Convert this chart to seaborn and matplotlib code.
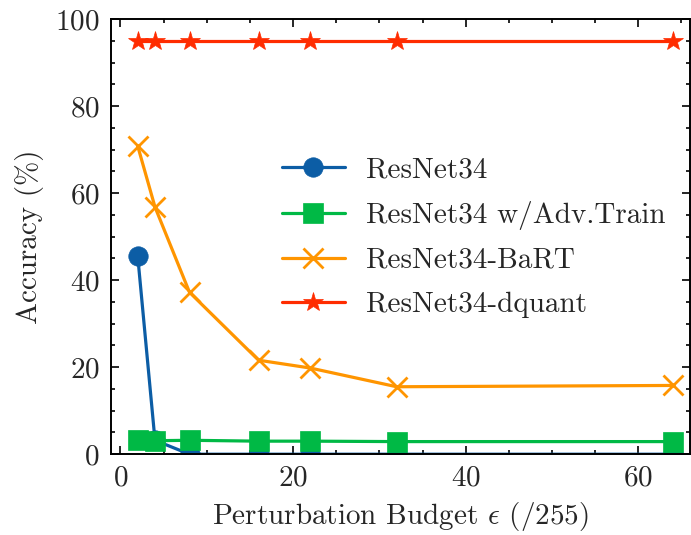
import numpy as np
import matplotlib
matplotlib.use('Agg')
import matplotlib.pyplot as plt
import pandas as pd
import seaborn as sns

# data
eps = [2, 4, 8, 16, 22, 32, 64]
resnet = [45.5, 3.2, 0.0, 0.0, 0.0, 0.0, 0.0]
resnet_adv = [3.2, 3.1, 3.2, 3.0, 3.0, 2.9, 2.9]
resnet_bart = [70.8, 56.8, 37.2, 21.6, 19.8, 15.5, 15.8]
resnet_dquant = [95.0, 95.0, 95.0, 95.0, 95.0, 95.0, 95.0]

labels = ['ResNet34', 'ResNet34 w/Adv.Train', 'ResNet34-BaRT', 'ResNet34-dquant']
colors = ['#0C5DA5', '#00B945', '#FF9500', '#FF2C00']
markers = ['o', 's', 'x', '*']
sizes = [14, 14.5, 15, 15]

sns.set_style('ticks')
plt.rcParams['font.family'] = 'serif'
plt.rcParams['font.serif'] = ['cmr10']
plt.rcParams['mathtext.fontset'] = 'cm'
plt.rcParams['axes.formatter.use_mathtext'] = True
plt.rcParams['font.size'] = 21
plt.rcParams['axes.linewidth'] = 1.4

df = pd.DataFrame({'eps': eps, labels[0]: resnet, labels[1]: resnet_adv,
                   labels[2]: resnet_bart, labels[3]: resnet_dquant})

fig = plt.figure(figsize=(6.91, 5.35), dpi=100)
ax = fig.add_axes([0.1606, 0.151, 0.838, 0.8135])

for lab, c, m, s in zip(labels, colors, markers, sizes):
    sns.lineplot(data=df, x='eps', y=lab, ax=ax, color=c, marker=m,
                 markersize=s, markeredgecolor=c, markerfacecolor=c,
                 markeredgewidth=2 if m == 'x' else 0.5, linewidth=2.3,
                 label=lab)

ax.set_xlim(-1.1, 66)
ax.set_ylim(0, 100)
ax.set_xticks([0, 20, 40, 60])
ax.set_yticks([0, 20, 40, 60, 80, 100])
ax.set_xticks(np.arange(0, 66, 5), minor=True)
ax.set_yticks(np.arange(0, 101, 5), minor=True)
ax.tick_params(which='both', direction='in', top=True, right=True, width=1.4)
ax.tick_params(which='major', length=6, labelsize=21, pad=8)
ax.tick_params(which='minor', length=3)
for sp in ax.spines.values():
    sp.set_visible(True)
    sp.set_color('black')

ax.set_xlabel(r'Perturbation Budget $\epsilon$ (/255)', fontsize=21, labelpad=6)
ax.set_ylabel('Accuracy (%)', fontsize=21, labelpad=8)

ax.legend(loc='center left', bbox_to_anchor=(0.295, 0.498), frameon=False,
          fontsize=21, handlelength=2.15, handletextpad=0.75, labelspacing=0.6,
          borderpad=0, borderaxespad=0)

fig.savefig('out.png', dpi=100)
